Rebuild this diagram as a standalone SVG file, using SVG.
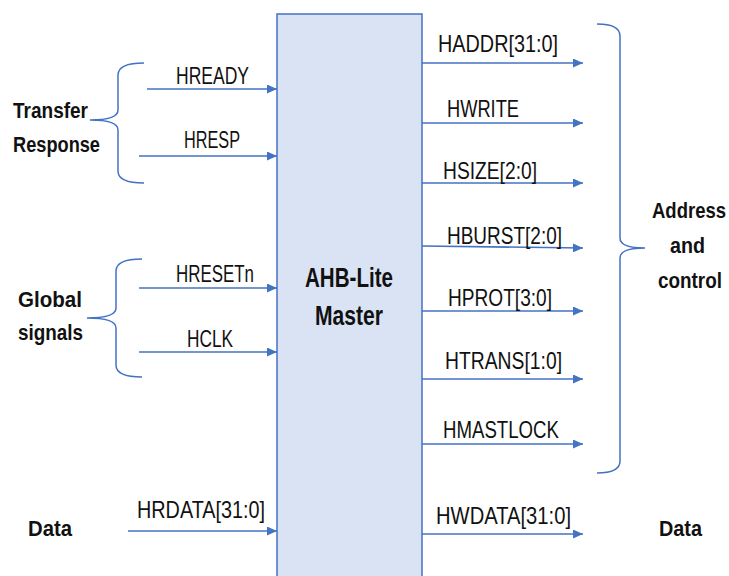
<svg xmlns="http://www.w3.org/2000/svg" width="729" height="576" viewBox="0 0 729 576">
<style>
.sig{font-family:"Liberation Sans",Arial,sans-serif;font-size:24px;fill:#111;}
.grp{font-family:"Liberation Sans",Arial,sans-serif;font-size:22px;font-weight:bold;fill:#111;}
.grs{font-family:"Liberation Sans",Arial,sans-serif;font-size:19px;font-weight:bold;fill:#111;}
.ttl{font-family:"Liberation Sans",Arial,sans-serif;font-size:28px;font-weight:bold;fill:#111;}
.ln{stroke:#4472c4;stroke-width:1.6;fill:none;marker-end:url(#ah);}
.br{stroke:#4472c4;stroke-width:1.5;fill:none;}
</style>
<defs>
<marker id="ah" markerUnits="userSpaceOnUse" markerWidth="10" markerHeight="9" refX="10" refY="4.5" orient="auto">
<path d="M0,0 L10,4.5 L0,9 z" fill="#4472c4"/>
</marker>
</defs>
<rect width="729" height="576" fill="#fff"/>
<g id="master">
<rect x="277" y="14" width="145" height="580" fill="#dae3f3" stroke="#4472c4" stroke-width="1.5"/>
<text class="ttl" x="305" y="287" textLength="88" lengthAdjust="spacingAndGlyphs">AHB-Lite</text>
<text class="ttl" x="315" y="325" textLength="68" lengthAdjust="spacingAndGlyphs">Master</text>
</g>
<g id="braces">
<path class="br" d="M144,63 Q118,63 118,75 L118,110 Q118,120 90,120 Q118,120 118,130 L118,171 Q118,183 144,183"/>
<path class="br" d="M142,259 Q116,259 116,271 L116,308 Q116,318 87,318 Q116,318 116,328 L116,365 Q116,377 142,377"/>
<path class="br" d="M597,24 Q620,24 620,36 L620,238 Q620,248 645,248 Q620,248 620,258 L620,461 Q620,473 597,473"/>
</g>
<g id="group-labels">
<text class="grp" x="13" y="118" textLength="75" lengthAdjust="spacingAndGlyphs">Transfer</text>
<text class="grp" x="13" y="152" textLength="87" lengthAdjust="spacingAndGlyphs">Response</text>
<text class="grp" x="18" y="307" textLength="64" lengthAdjust="spacingAndGlyphs">Global</text>
<text class="grp" x="18" y="340" textLength="65" lengthAdjust="spacingAndGlyphs">signals</text>
<text class="grp" x="28" y="536" textLength="44" lengthAdjust="spacingAndGlyphs">Data</text>
<text class="grs" transform="translate(652,218) scale(1,1.16)" x="0" y="0" textLength="74" lengthAdjust="spacingAndGlyphs">Address</text>
<text class="grs" transform="translate(670,253) scale(1,1.16)" x="0" y="0" textLength="35" lengthAdjust="spacingAndGlyphs">and</text>
<text class="grs" transform="translate(658,288) scale(1,1.16)" x="0" y="0" textLength="64" lengthAdjust="spacingAndGlyphs">control</text>
<text class="grp" x="659" y="536" textLength="43" lengthAdjust="spacingAndGlyphs">Data</text>
</g>
<g id="connectors">
<line class="ln" x1="147" y1="89" x2="277" y2="89"/>
<line class="ln" x1="139" y1="156" x2="277" y2="156"/>
<line class="ln" x1="139" y1="288" x2="277" y2="288"/>
<line class="ln" x1="139" y1="352" x2="277" y2="352"/>
<line class="ln" x1="128" y1="531" x2="277" y2="531"/>
<line class="ln" x1="422" y1="63" x2="583" y2="63"/>
<line class="ln" x1="422" y1="123" x2="583" y2="123"/>
<line class="ln" x1="422" y1="183" x2="583" y2="183"/>
<line class="ln" x1="422" y1="246" x2="583" y2="248"/>
<line class="ln" x1="422" y1="311" x2="583" y2="311"/>
<line class="ln" x1="422" y1="379" x2="583" y2="379"/>
<line class="ln" x1="422" y1="444" x2="583" y2="444"/>
<line class="ln" x1="422" y1="534" x2="583" y2="534"/>
</g>
<g id="signal-labels">
<text class="sig" x="176" y="84" textLength="73" lengthAdjust="spacingAndGlyphs">HREADY</text>
<text class="sig" x="184" y="148" textLength="56" lengthAdjust="spacingAndGlyphs">HRESP</text>
<text class="sig" x="176" y="282" textLength="78" lengthAdjust="spacingAndGlyphs">HRESETn</text>
<text class="sig" x="187" y="347" textLength="46" lengthAdjust="spacingAndGlyphs">HCLK</text>
<text class="sig" x="137" y="518" textLength="128" lengthAdjust="spacingAndGlyphs">HRDATA[31:0]</text>
<text class="sig" x="438" y="52" textLength="120" lengthAdjust="spacingAndGlyphs">HADDR[31:0]</text>
<text class="sig" x="447" y="117" textLength="72" lengthAdjust="spacingAndGlyphs">HWRITE</text>
<text class="sig" x="443" y="179" textLength="94" lengthAdjust="spacingAndGlyphs">HSIZE[2:0]</text>
<text class="sig" x="447" y="244" textLength="115" lengthAdjust="spacingAndGlyphs">HBURST[2:0]</text>
<text class="sig" x="448" y="306" textLength="104" lengthAdjust="spacingAndGlyphs">HPROT[3:0]</text>
<text class="sig" x="445" y="369" textLength="117" lengthAdjust="spacingAndGlyphs">HTRANS[1:0]</text>
<text class="sig" x="443" y="438" textLength="116" lengthAdjust="spacingAndGlyphs">HMASTLOCK</text>
<text class="sig" x="436" y="524" textLength="135" lengthAdjust="spacingAndGlyphs">HWDATA[31:0]</text>
</g>
</svg>
